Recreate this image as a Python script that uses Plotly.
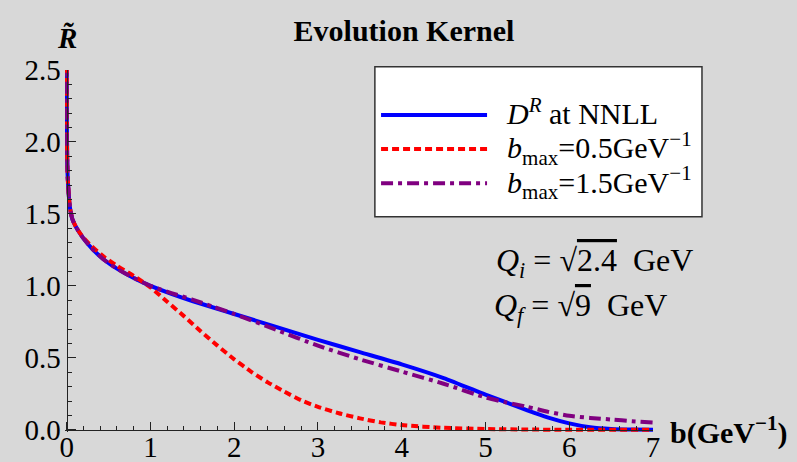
import plotly.graph_objects as go

# ---- data ----
b_nnll = [0.0003, 0.002, 0.006, 0.012, 0.024, 0.04, 0.07, 0.12, 0.2, 0.3, 0.45, 0.6, 0.8, 1.0,
          1.25, 1.5, 1.75, 2.0, 2.5, 3.0, 3.5, 4.0, 4.5, 5.0, 5.25, 5.5, 5.75, 6.0, 6.25, 6.5, 6.75, 7.0]
r_nnll = [2.6, 2.15, 1.9, 1.76, 1.64, 1.54, 1.46, 1.40, 1.33, 1.26, 1.18, 1.12, 1.055, 1.0,
          0.945, 0.895, 0.85, 0.805, 0.715, 0.625, 0.54, 0.455, 0.36, 0.245, 0.19, 0.135, 0.085, 0.045, 0.018, 0.006, 0.002, 0.001]

b_b05 = [0.0003, 0.002, 0.006, 0.012, 0.024, 0.04, 0.07, 0.12, 0.2, 0.3, 0.45, 0.6, 0.8, 1.0,
         1.2, 1.4, 1.6, 1.8, 2.0, 2.2, 2.4, 2.6, 2.8, 3.0, 3.25, 3.5, 3.75, 4.0, 4.5, 5.0, 5.5, 6.0, 7.0]
r_b05 = [2.6, 2.15, 1.9, 1.76, 1.64, 1.54, 1.46, 1.40, 1.335, 1.275, 1.2, 1.14, 1.07, 0.99,
         0.89, 0.79, 0.685, 0.585, 0.49, 0.405, 0.33, 0.265, 0.205, 0.16, 0.115, 0.08, 0.052, 0.033, 0.014, 0.006, 0.002, 0.001, 0.0]

b_b15 = [0.0003, 0.002, 0.006, 0.012, 0.024, 0.04, 0.07, 0.12, 0.2, 0.3, 0.45, 0.6, 0.8, 1.0,
         1.25, 1.5, 1.75, 2.0, 2.5, 3.0, 3.5, 4.0, 4.5, 5.0, 5.25, 5.5, 5.75, 6.0, 6.25, 6.5, 6.75, 7.0]
r_b15 = [2.6, 2.15, 1.9, 1.76, 1.64, 1.54, 1.46, 1.40, 1.33, 1.26, 1.18, 1.12, 1.055, 1.0,
         0.95, 0.905, 0.855, 0.805, 0.695, 0.585, 0.49, 0.405, 0.32, 0.225, 0.19, 0.16, 0.125, 0.098, 0.083, 0.072, 0.06, 0.05]

series_names = ["<i>D</i><sup><i>R</i></sup> at NNLL",
                "<i>b</i><sub>max</sub>=0.5GeV<sup>\u22121</sup>",
                "<i>b</i><sub>max</sub>=1.5GeV<sup>\u22121</sup>"]

x_ticks = [0, 1, 2, 3, 4, 5, 6, 7]
y_ticks = [0.0, 0.5, 1.0, 1.5, 2.0, 2.5]

FONT = "Liberation Serif"
BG = "#d8d8d8"


def leg(name):
    return "<span style='font-size:30px'>\u2002" + name + "</span>"


fig = go.Figure()
fig.add_trace(go.Scatter(x=b_nnll, y=r_nnll, mode="lines", name=leg(series_names[0]),
                         line=dict(color="#0000ff", width=4, shape="spline", smoothing=0.6)))
fig.add_trace(go.Scatter(x=b_b05, y=r_b05, mode="lines", name=leg(series_names[1]),
                         line=dict(color="#ff0000", width=4, dash="7px,4px", shape="spline", smoothing=0.6)))
fig.add_trace(go.Scatter(x=b_b15, y=r_b15, mode="lines", name=leg(series_names[2]),
                         line=dict(color="#800080", width=4, dash="12px,5px,4px,5px", shape="spline", smoothing=0.6)))

axis_common = dict(showgrid=False, zeroline=False, showline=True, linecolor="#222", linewidth=1.3,
                   ticks="inside", ticklen=8, tickwidth=1, tickcolor="#222",
                   tickfont=dict(family=FONT, size=29, color="black"))

fig.update_layout(
    width=797, height=462,
    paper_bgcolor=BG, plot_bgcolor=BG,
    margin=dict(l=65, r=144, t=70, b=30, autoexpand=False),
    title=dict(text="<b>Evolution Kernel</b>", x=(404 - 65) / 588, xref="paper", xanchor="center",
               y=1 - 30 / 462, yref="container", yanchor="middle",
               font=dict(family=FONT, size=30, color="black")),
    xaxis=dict(range=[-0.02, 7.0], tickvals=x_ticks, ticktext=[str(v) for v in x_ticks],
               anchor="free", position=0.015 / 2.515, ticklabelstandoff=-9,
               minor=dict(dtick=0.2, ticks="inside", ticklen=4, tickcolor="#222"),
               **axis_common),
    yaxis=dict(range=[-0.015, 2.5], tickvals=y_ticks, ticktext=[f"{v:.1f}" for v in y_ticks],
               anchor="free", position=0.02 / 7.02, ticklabelstandoff=0,
               minor=dict(dtick=0.1, ticks="inside", ticklen=4, tickcolor="#222"),
               **axis_common),
    showlegend=True,
    legend=dict(x=0.529, y=0.937, xanchor="left", yanchor="top", bgcolor="rgba(0,0,0,0)",
                borderwidth=0, itemwidth=106, tracegroupgap=0,
                font=dict(family=FONT, size=24, color="black")),
    shapes=[dict(type="rect", xref="paper", yref="paper", x0=0.527, x1=1.0833, y0=0.5945, y1=1.0088,
                 fillcolor="white", line=dict(color="#333", width=1.5), layer="above")],
    annotations=[
        dict(text="<b><i>R\u0303</i></b>", xref="paper", yref="paper", x=0.0034, y=1.0889,
             xanchor="center", yanchor="middle",
             showarrow=False, font=dict(family=FONT, size=29, color="black")),
        dict(text="<b>b(GeV<sup>\u22121</sup>)</b>", xref="paper", yref="paper", x=1.026, y=0.003,
             xanchor="left", yanchor="middle", showarrow=False,
             font=dict(family=FONT, size=30, color="black")),
        dict(text="<i>Q</i><sub><i>i</i></sub> = \u221a<span style='text-decoration:overline'>2.4</span>\u00a0\u00a0GeV",
             xref="paper", yref="paper", x=0.901, y=0.4674, xanchor="center", yanchor="middle",
             showarrow=False, font=dict(family=FONT, size=32, color="black")),
        dict(text="<i>Q</i><sub><i>f</i></sub> = \u221a<span style='text-decoration:overline'>9</span>\u00a0\u00a0GeV",
             xref="paper", yref="paper", x=0.876, y=0.3431, xanchor="center", yanchor="middle",
             showarrow=False, font=dict(family=FONT, size=32, color="black")),
    ],
)

fig.write_html("out.html", config={"displayModeBar": False},
               post_script="document.body.style.margin='0px';")
